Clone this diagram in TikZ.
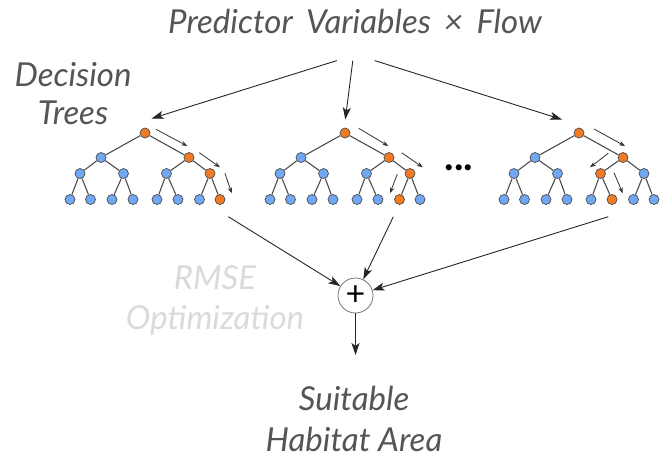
\documentclass[tikz,border=0pt]{standalone}
\usepackage{fontspec}
\setmainfont{Lato}
\usetikzlibrary{arrows.meta}
\usetikzlibrary{positioning}
\definecolor{leafblue}{HTML}{70A8F4}
\definecolor{leaforange}{HTML}{F27A22}
\definecolor{txtgray}{HTML}{555555}
\definecolor{fadegray}{HTML}{DADADA}

\begin{document}
\begin{tikzpicture}[x=1pt,y=-1pt,
  tn/.style={draw=black!70,circle,inner sep=0pt,minimum size=10pt,line width=0.7pt},
  cool/.style={tn,fill=leafblue},
  hot/.style={tn,fill=leaforange},
  edge/.style={draw=black!70,line width=1.1pt},
  feed/.style={-{Stealth[length=12pt,width=8pt,inset=3pt]},line width=0.9pt,black!85},
  flow/.style={-{Stealth[length=6pt,width=4.5pt]},line width=0.8pt,black!80},
  lbl/.style={font=\fontsize{33}{40}\selectfont\itshape,text=txtgray,align=center,inner sep=0pt}]
\useasboundingbox (0,0) rectangle (660,456);
% the three trees, heap numbering
\foreach \t/\dx/\a/\b in {1/145/7/15,2/345/7/14,3/579/6/13}{
  \foreach \i/\x/\y in {1/0/0,2/-44/24.5,3/44/24.5,4/-65/40.5,5/-21.5/40.5,6/21.5/40.5,7/65/40.5,
      8/-75/66.5,9/-54.5/66.5,10/-33/66.5,11/-12/66.5,12/12/66.5,13/33/66.5,14/54.5/66.5,15/75/66.5}{
    \pgfmathtruncatemacro\hit{(\i==1)||(\i==3)||(\i==\a)||(\i==\b)}
    \ifnum\hit=1 \def\fc{hot}\else\def\fc{cool}\fi
    \node[\fc] (\t-\i) at (\dx+\x,133+\y) {};
  }
  \foreach \i in {2,...,15}{
    \pgfmathtruncatemacro\p{\i/2}
    \draw[edge] (\t-\p) -- (\t-\i);
  }
}
\node[font=\fontsize{40}{40}\selectfont\bfseries,inner sep=0pt] (more) at (459,168) {...};
% labels
\node[lbl,anchor=base] (pred) at (355,33.3) {Predictor\ \,Variables\ \,×\ \,Flow};
\node[lbl,anchor=base,font=\fontsize{33}{38}\selectfont\itshape] (dt) at (73,124.5) {Decision\\Trees};
\node[lbl,anchor=base,text=fadegray] (rmse) at (215,329) {RMSE\\Optimization};
\node[lbl,anchor=base,font=\fontsize{33}{41}\selectfont\itshape] (area) at (354,451.5) {Suitable\\Habitat Area};
\node[draw=black!55,circle,minimum size=35pt,inner sep=0pt,line width=0.8pt,
  font=\fontsize{34}{34}\selectfont] (sum) at (355.5,295.5) {+};
\coordinate (down) at (355.5,355);
% fan out
\draw[feed] ([shift={(-18.2,27.3)}]pred.base) -- ([shift={(6.6,-14.5)}]1-1.center);
\draw[feed] ([shift={(-2.2,27.3)}]pred.base) -- ([shift={(0.3,-13.5)}]2-1.center);
\draw[feed] ([shift={(19.7,27.3)}]pred.base) -- ([shift={(-17,-13.5)}]3-1.center);
% decision paths
\draw[flow] ([shift={(11,-3.7)}]1-1.center) -- ([shift={(-1.7,-11.5)}]1-3.center);
\draw[flow] ([shift={(10.3,-4.8)}]1-3.center) -- ([shift={(10,-6.2)}]1-7.center);
\draw[flow] ([shift={(15,-0.2)}]1-7.center) -- ([shift={(11.7,-6.2)}]1-15.center);
\draw[flow] ([shift={(13.7,-4.7)}]2-1.center) -- ([shift={(-0.7,-11.5)}]2-3.center);
\draw[flow] ([shift={(12.7,-4.8)}]2-3.center) -- ([shift={(12.7,-6.2)}]2-7.center);
\draw[flow] ([shift={(-12.7,0.5)}]2-7.center) -- ([shift={(-9.5,-6.2)}]2-14.center);
\draw[flow] ([shift={(15,-4)}]3-1.center) -- ([shift={(2,-11.5)}]3-3.center);
\draw[flow] ([shift={(-14.7,-4.2)}]3-3.center) -- ([shift={(-10.5,-6.2)}]3-6.center);
\draw[flow] ([shift={(13.5,-0.8)}]3-6.center) -- ([shift={(10.7,-6.2)}]3-13.center);
% combine
\draw[feed] ([shift={(8.3,17.2)}]1-15.center) -- (sum);
\draw[feed] ([shift={(-6.2,17.2)}]2-14.center) -- (sum);
\draw[feed] ([shift={(-3.7,17.2)}]3-13.center) -- (sum);
\draw[feed] (sum) -- (down);
\end{tikzpicture}
\end{document}
